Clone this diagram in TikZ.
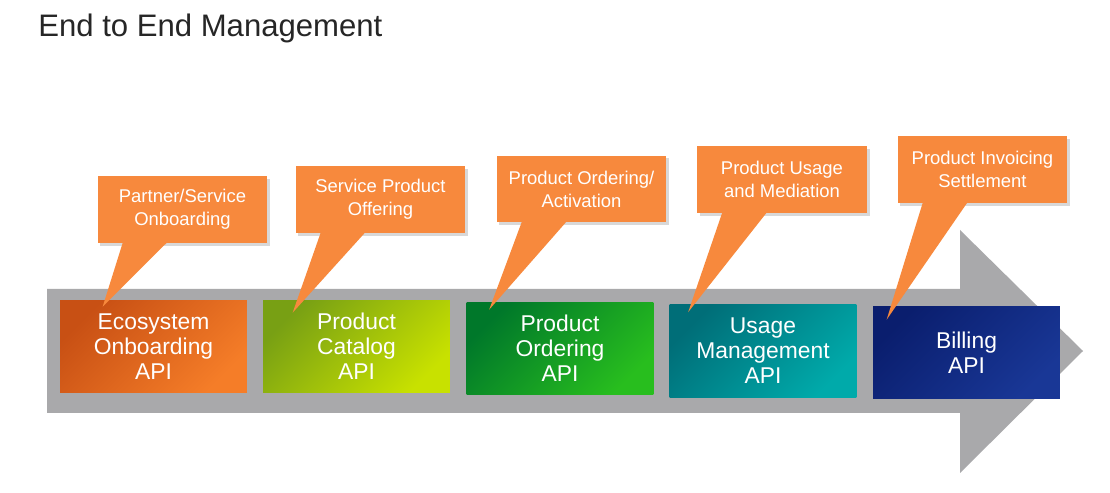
\documentclass[tikz,border=0pt]{standalone}
\usepackage{fontspec}
\setmainfont{Liberation Sans}
\usetikzlibrary{positioning,shadows}

\definecolor{calloutorange}{HTML}{F7893D}
\definecolor{arrowgray}{HTML}{A9A9AB}
\definecolor{titlegray}{HTML}{262626}
\definecolor{ecodark}{HTML}{C85014}
\definecolor{ecolight}{HTML}{F57D28}
\definecolor{catdark}{HTML}{78A014}
\definecolor{catlight}{HTML}{C8E100}
\definecolor{orddark}{HTML}{00782A}
\definecolor{ordlight}{HTML}{28BE1E}
\definecolor{usedark}{HTML}{006E78}
\definecolor{uselight}{HTML}{00AAAA}
\definecolor{billdark}{HTML}{0A1E6E}
\definecolor{billlight}{HTML}{193796}

\tikzset{
  apibox/.style={minimum width=3.74cm, minimum height=1.86cm, inner sep=0pt,
    text=white, align=center, font=\fontsize{13}{14.2}\selectfont},
  callout/.style={fill=calloutorange, minimum width=3.4cm, minimum height=1.34cm,
    inner sep=0pt, text=white, align=center, font=\fontsize{10.5}{13}\selectfont,
    drop shadow={shadow xshift=1.5pt, shadow yshift=-1.5pt, opacity=0.3}},
  pointer/.style={fill=calloutorange},
}

\begin{document}
\begin{tikzpicture}[x=0.02cm, y=-0.02cm]
                \useasboundingbox (0,0) rectangle (1110,493);
                \fill[white] (0,0) rectangle (1110,493);
                \node[anchor=base west, inner sep=0pt, text=titlegray, font=\fontsize{17.7}{20}\selectfont] (title) at (38,37) {End to End Management};

                % big gray arrow
                \fill[arrowgray] (47,289) -- (960,289) -- (960,230) -- (1083,351) -- (960,473) -- (960,413) -- (47,413) -- cycle;

                % api boxes
                \node[apibox, left color=ecodark, right color=ecolight, shading angle=45] (eco) at (153.5,346.5) {Ecosystem\\Onboarding\\API};
                \node[apibox, left color=catdark, right color=catlight, shading angle=45] (catalog) at (356.5,346.5) {Product\\Catalog\\API};
                \node[apibox, left color=orddark, right color=ordlight, shading angle=45] (ordering) at (560,348.5) {Product\\Ordering\\API};
                \node[apibox, left color=usedark, right color=uselight, shading angle=45] (usage) at (763,351) {Usage\\Management\\API};
                \node[apibox, left color=billdark, right color=billlight, shading angle=45] (billing) at (966.5,352.5) {Billing\\API};

                % callouts
                \node[callout] (partner) at (182.5,209.5) {Partner/Service\\Onboarding};
                \node[callout] (offering) at (380.5,199.5) {Service Product\\Offering};
                \node[callout] (activation) at (581.5,189) {Product Ordering/\\Activation};
                \node[callout] (mediation) at (782,179.5) {Product Usage\\and Mediation};
                \node[callout] (settlement) at (982.5,169.5) {Product Invoicing\\Settlement};

                \fill[pointer] ([shift={(26,-2)}]partner.south west) -- ([shift={(43,7)}]eco.north west) -- ([shift={(71,-2)}]partner.south west) -- cycle;
                \fill[pointer] ([shift={(26,-2)}]offering.south west) -- ([shift={(30,13)}]catalog.north west) -- ([shift={(71,-2)}]offering.south west) -- cycle;
                \fill[pointer] ([shift={(26,-2)}]activation.south west) -- ([shift={(23,8)}]ordering.north west) -- ([shift={(71,-2)}]activation.south west) -- cycle;
                \fill[pointer] ([shift={(26,-2)}]mediation.south west) -- ([shift={(19,8)}]usage.north west) -- ([shift={(71,-2)}]mediation.south west) -- cycle;
                \fill[pointer] ([shift={(26,-2)}]settlement.south west) -- ([shift={(14,14)}]billing.north west) -- ([shift={(71,-2)}]settlement.south west) -- cycle;

            \end{tikzpicture}
\end{document}
